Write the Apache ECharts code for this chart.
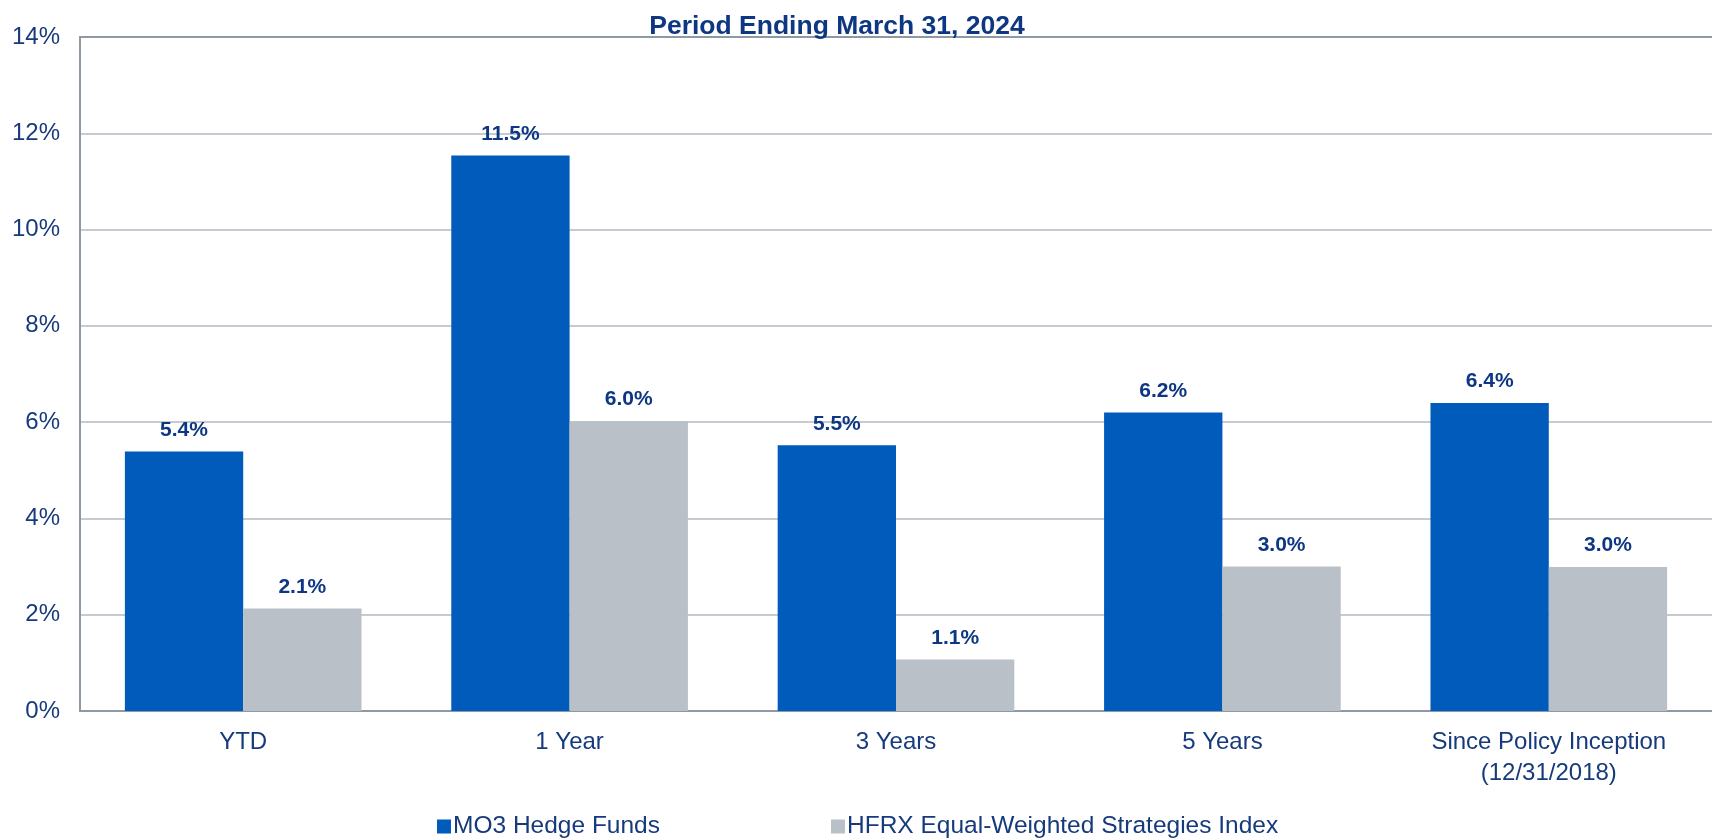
<!DOCTYPE html>
<html><head><meta charset="utf-8">
<script src="https://cdn.jsdelivr.net/npm/echarts@6/dist/echarts.min.js"></script>
<style>html,body{margin:0;padding:0;background:#fff}#c{width:1712px;height:840px}</style>
</head><body><div id="c"></div>
<script>
const title = 'Period Ending March 31, 2024';
const categories = ['YTD', '1 Year', '3 Years', '5 Years', 'Since Policy Inception\n(12/31/2018)'];
const seriesNames = ['MO3 Hedge Funds', 'HFRX Equal-Weighted Strategies Index'];
const mo3Values = [5.39, 11.54, 5.52, 6.2, 6.4];
const hfrxValues = [2.13, 6.02, 1.07, 3.0, 2.99];

const navy = '#173A7C';
const titleNavy = '#0E3783';
const chart = echarts.init(document.getElementById('c'));
const lbl = {show: true, position: 'top', distance: 11, color: titleNavy, fontWeight: 'bold', fontSize: 21,
  fontFamily: 'Liberation Sans', formatter: p => p.value.toFixed(1) + '%'};
chart.setOption({
  animation: false,
  textStyle: {fontFamily: 'Liberation Sans'},
  title: {text: title, left: 832, textAlign: 'center', top: 8, textStyle: {color: titleNavy, fontSize: 26.5, fontWeight: 'bold', fontFamily: 'Liberation Sans'}},
  legend: {bottom: -4, left: 432, itemGap: 171, icon: 'rect', itemWidth: 14, itemHeight: 14,
    textStyle: {color: navy, fontSize: 24.5, fontFamily: 'Liberation Sans', padding: [0, 0, 0, -3]}, data: seriesNames},
  grid: {left: 80, width: 1643, top: 37, bottom: 129},
  xAxis: [{type: 'category', data: categories,
    axisLine: {lineStyle: {color: '#8D99A5', width: 2}}, axisTick: {show: false},
    axisLabel: {color: navy, fontSize: 24, margin: 16, lineHeight: 31, fontFamily: 'Liberation Sans'}},
    {type: 'category', position: 'top', data: categories, axisLine: {lineStyle: {color: '#8D99A5', width: 2}},
     axisTick: {show: false}, axisLabel: {show: false}}],
  yAxis: {type: 'value', min: 0, max: 14, interval: 2,
    axisLine: {show: true, lineStyle: {color: '#8D99A5', width: 2}}, axisTick: {show: false},
    splitLine: {lineStyle: {color: '#C5CBD1', width: 2}},
    axisLabel: {color: navy, fontSize: 24, margin: 20, formatter: v => v + '%', fontFamily: 'Liberation Sans'}},
  series: [
    {name: seriesNames[0], type: 'bar', data: mo3Values, barGap: '0%', barCategoryGap: '27.5%',
     itemStyle: {color: '#005BBB'}, label: lbl},
    {name: seriesNames[1], type: 'bar', data: hfrxValues, barGap: '0%', barCategoryGap: '27.5%',
     itemStyle: {color: '#B9C0C7'}, label: lbl}
  ]
});
</script></body></html>
